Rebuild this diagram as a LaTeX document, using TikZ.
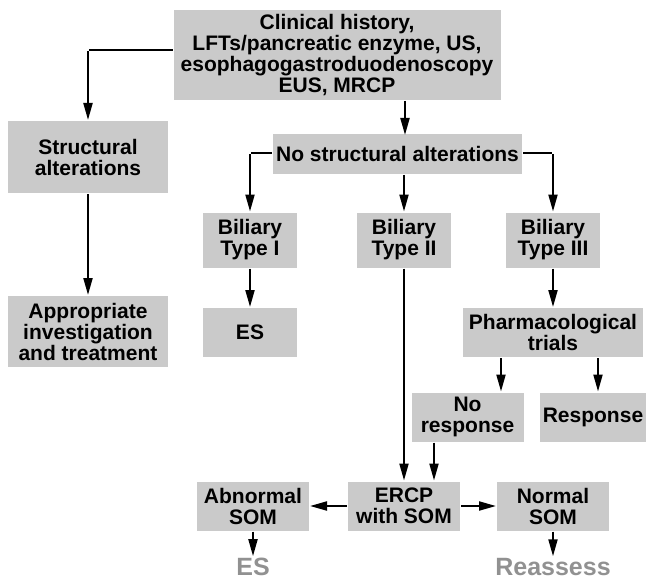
\documentclass[tikz,border=0pt]{standalone}
\usepackage{fontspec}
\setmainfont{Liberation Sans}
\usetikzlibrary{arrows.meta}
\definecolor{boxgrey}{RGB}{202,202,202}
\definecolor{textgrey}{RGB}{145,145,145}
\newcommand{\drawbox}{\node[fill=boxgrey,rectangle,align=center,inner sep=0pt,font=\bfseries\fontsize{21}{21}\selectfont]}
\newcommand{\drawgreytext}{\node[textgrey,inner sep=1pt,font=\bfseries\fontsize{25}{25}\selectfont]}
\newcommand{\drawdummy}{\node[minimum size=0,inner sep=0]}

\begin{document}
\begin{tikzpicture}[x=1pt, y=-1pt, line width=2pt, >={Triangle[length=17pt,width=9pt]}]
\useasboundingbox (0,0) rectangle (648,583);
%work-up and the three biliary types

\drawbox (hist) at (337,55) [minimum width=327, minimum height=90] {Clinical history,\\LFTs/pancreatic enzyme, US,\\esophagogastroduodenoscopy\\EUS, MRCP};
\drawbox (struct) at (88,157) [minimum width=160, minimum height=72] {Structural\\alterations};
\drawbox (approp) at (88,331.5) [minimum width=160, minimum height=71] {Appropriate\\investigation\\and treatment};
\drawbox (nostruct) at (397.5,154) [minimum width=249, minimum height=40] {No structural alterations};
\drawbox (type1) at (250,240) [minimum width=94, minimum height=55] {Biliary\\Type I};
\drawbox (type2) at (404,240) [minimum width=94, minimum height=55] {Biliary\\Type II};
\drawbox (type3) at (553,240) [minimum width=94, minimum height=55] {Biliary\\Type III};
\drawbox (es) at (250,332.5) [minimum width=94, minimum height=49] {ES};
\drawbox (pharma) at (553,332.5) [minimum width=180, minimum height=49] {Pharmacological\\trials};
\drawbox (noresp) at (467.5,417) [minimum width=112, minimum height=49] {No\\response};
\drawbox (resp) at (593,417) [minimum width=106, minimum height=49] {Response};
\drawbox (ercp) at (404,506) [minimum width=112, minimum height=49] {ERCP\\with SOM};
\drawbox (abnorm) at (253,506) [minimum width=112, minimum height=49] {Abnormal\\SOM};
\drawbox (norm) at (553,506) [minimum width=112, minimum height=49] {Normal\\SOM};
\drawgreytext (esout) at (253,567) {ES};
\drawgreytext (reassess) at (553,567) {Reassess};

\drawdummy (histHelp) at (88,50) {};
\drawdummy (leftHelp) at (250,153) {};
\drawdummy (rightHelp) at (553,153) {};

\draw[->] (hist.west |- histHelp) to (histHelp) to (struct);
\draw[->] (struct) to (approp);
\draw[->] (hist.south -| nostruct.north) ++(7.5,0) to ++(0,34);
\draw[->] (nostruct.west |- leftHelp) to (leftHelp) to (type1);
\draw[->] (nostruct.east |- rightHelp) to (rightHelp) to (type3);
\draw[->] (nostruct.south -| type2) to (type2);
\draw[->] (type1) to (es);
\draw[->] (type3) to (pharma);
\draw[->] (type2) to (ercp);
\draw[->] (pharma.south -| 501,0) to (noresp.north -| 501,0);
\draw[->] (pharma.south -| 598,0) to (resp.north -| 598,0);
\draw[->] (noresp.south -| 434,0) to (ercp.north -| 434,0);
\draw[->] (ercp) to (abnorm);
\draw[->] (ercp) to (norm);
\draw[->] (abnorm) to (esout);
\draw[->] (norm) to (reassess);
\end{tikzpicture}
\end{document}
